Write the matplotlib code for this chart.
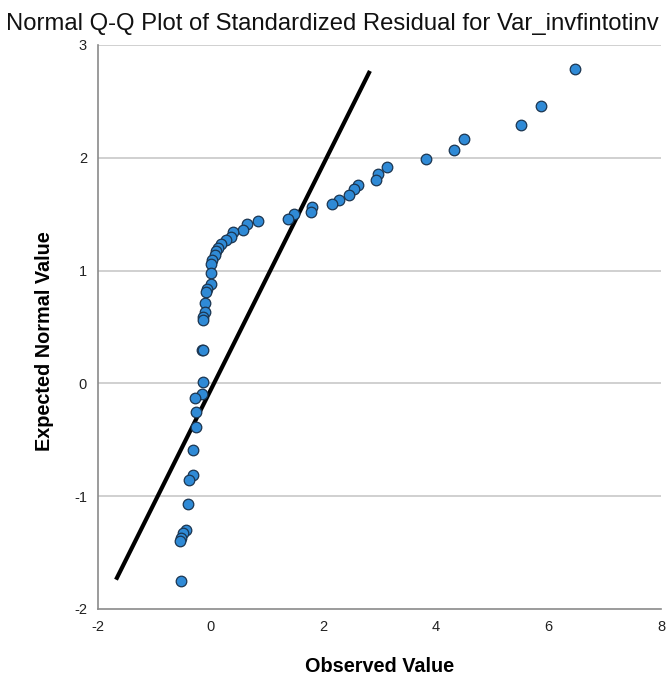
import matplotlib
matplotlib.use("Agg")
import matplotlib.pyplot as plt

observed = [6.48, 5.87, 5.52, 4.50, 4.33, 3.82, 3.14, 2.97, 2.94, 2.61, 2.54, 2.46,
            2.28, 2.16, 1.80, 1.78, 1.48, 1.37,
            0.84, 0.64, 0.58, 0.40, 0.36, 0.28, 0.18, 0.14, 0.09, 0.07, 0.02, 0.01,
            0.01, 0.01, -0.07, -0.08, -0.10, -0.10, -0.13, -0.13, -0.15, -0.13,
            -0.14, -0.15, -0.27, -0.26, -0.26, -0.32, -0.31, -0.39, -0.41,
            -0.44, -0.49, -0.52, -0.54, -0.52]
expected = [2.79, 2.46, 2.29, 2.17, 2.07, 1.99, 1.92, 1.86, 1.80, 1.76, 1.72, 1.67,
            1.63, 1.59, 1.56, 1.52, 1.50, 1.46,
            1.44, 1.41, 1.36, 1.34, 1.30, 1.27, 1.24, 1.20, 1.17, 1.14, 1.09, 1.06,
            0.98, 0.88, 0.84, 0.81, 0.71, 0.63, 0.59, 0.56, 0.30, 0.30,
            0.01, -0.09, -0.13, -0.25, -0.39, -0.59, -0.81, -0.86, -1.07,
            -1.30, -1.33, -1.37, -1.40, -1.75]
line_x = [-1.68, 2.83]
line_y = [-1.74, 2.77]

xticks = [-2, 0, 2, 4, 6, 8]
yticks = [-2, -1, 0, 1, 2, 3]

plt.rcParams['font.family'] = ['Liberation Sans', 'DejaVu Sans']

fig = plt.figure(figsize=(6.72, 6.77), dpi=100)
ax = fig.add_axes([98/672, 1 - 609/677, (661 - 98)/672, (609 - 45)/677])

ax.set_xlim(-2, 8)
ax.set_ylim(-2, 3)
ax.set_xticks(xticks)
ax.set_yticks(yticks)
ax.set_xticklabels([str(t) for t in xticks])
ax.set_yticklabels([str(t) for t in yticks])

for yv in [-1, 0, 1, 2, 3]:
    ax.axhline(yv, color='#c8c8c8', lw=1.2, zorder=0)

ax.plot(line_x, line_y, color='black', lw=3, solid_capstyle='butt', zorder=2)
ax.scatter(observed, expected, s=58, facecolor='#2f8ad6', edgecolor='#1b3550',
           linewidths=0.9, zorder=3)

for s in ['top', 'right']:
    ax.spines[s].set_visible(False)
for s in ['left', 'bottom']:
    ax.spines[s].set_color('#8a8a8a')
    ax.spines[s].set_linewidth(1.2)

ax.tick_params(axis='both', labelsize=10.5, labelcolor='#222222', length=0)
ax.tick_params(axis='x', pad=8)
ax.tick_params(axis='y', pad=8)

ax.set_xlabel('Observed Value', fontsize=14.3, fontweight='bold')
ax.set_ylabel('Expected Normal Value', fontsize=14.3, fontweight='bold')
ax.xaxis.set_label_coords(0.5, -(667 - 609) / (609 - 45), transform=ax.transAxes)
ax.xaxis.label.set_va('center')
ax.yaxis.set_label_coords(-(98 - 45) / (661 - 98), 0.475, transform=ax.transAxes)
ax.yaxis.label.set_va('center')

fig.text(6/672, 1 - 24/677, 'Normal Q-Q Plot of Standardized Residual for Var_invfintotinv',
         fontsize=17.2, ha='left', va='center', color='#111111')

fig.savefig('out.png', dpi=100)
